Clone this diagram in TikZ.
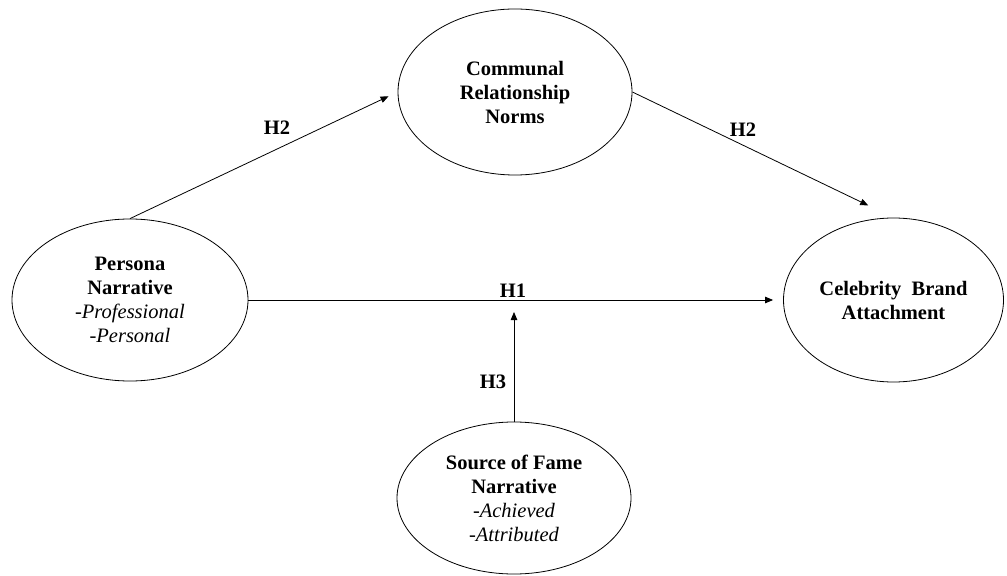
\documentclass[tikz,border=0pt]{standalone}
\usepackage{fontspec}
\setmainfont{Liberation Serif}
\usetikzlibrary{shapes.geometric,arrows.meta,calc}
\begin{document}
\begin{tikzpicture}[x=1bp,y=-1bp,
  construct/.style={ellipse, draw, line width=0.8bp, inner sep=0pt, align=center,
    font=\fontsize{20.5bp}{24bp}\selectfont},
  link/.style={line width=0.8bp, -{Triangle[length=8bp,width=6.5bp]}},
  hyp/.style={font=\fontsize{20.5bp}{24bp}\selectfont\bfseries, inner sep=0pt}]
\useasboundingbox (0,0) rectangle (1007,576);
\node[construct, minimum width=234bp, minimum height=166bp] (crn) at (515,92)
  {\textbf{Communal}\\\textbf{Relationship}\\\textbf{Norms}};
\node[construct, minimum width=236bp, minimum height=162bp] (pn) at (130,300)
  {\textbf{Persona}\\\textbf{Narrative}\\-\textit{Professional}\\-\textit{Personal}};
\node[construct, minimum width=220bp, minimum height=164bp] (cba) at (893.5,300)
  {\textbf{Celebrity\ \ Brand}\\\textbf{Attachment}};
\node[construct, minimum width=234bp, minimum height=152bp] (sfn) at (514,498)
  {\textbf{Source of Fame}\\\textbf{Narrative}\\-\textit{Achieved}\\-\textit{Attributed}};
\coordinate (h1mid) at ($(pn.east)!(sfn.north)!(cba.west)$);
\draw[link, shorten >=10bp] (pn.north) -- (crn.west);
\draw[link, shorten >=28bp] (crn.east) -- (cba.north);
\draw[link, shorten >=10bp] (pn.east) -- (cba.west);
\draw[link, shorten >=12bp] (sfn.north) -- (h1mid);
\node[hyp] (h2a) at (277,128) {H2};
\node[hyp] (h2b) at (743,130) {H2};
\node[hyp] (h1) at (513,291) {H1};
\node[hyp] (h3) at (493,382) {H3};
\end{tikzpicture}
\end{document}
